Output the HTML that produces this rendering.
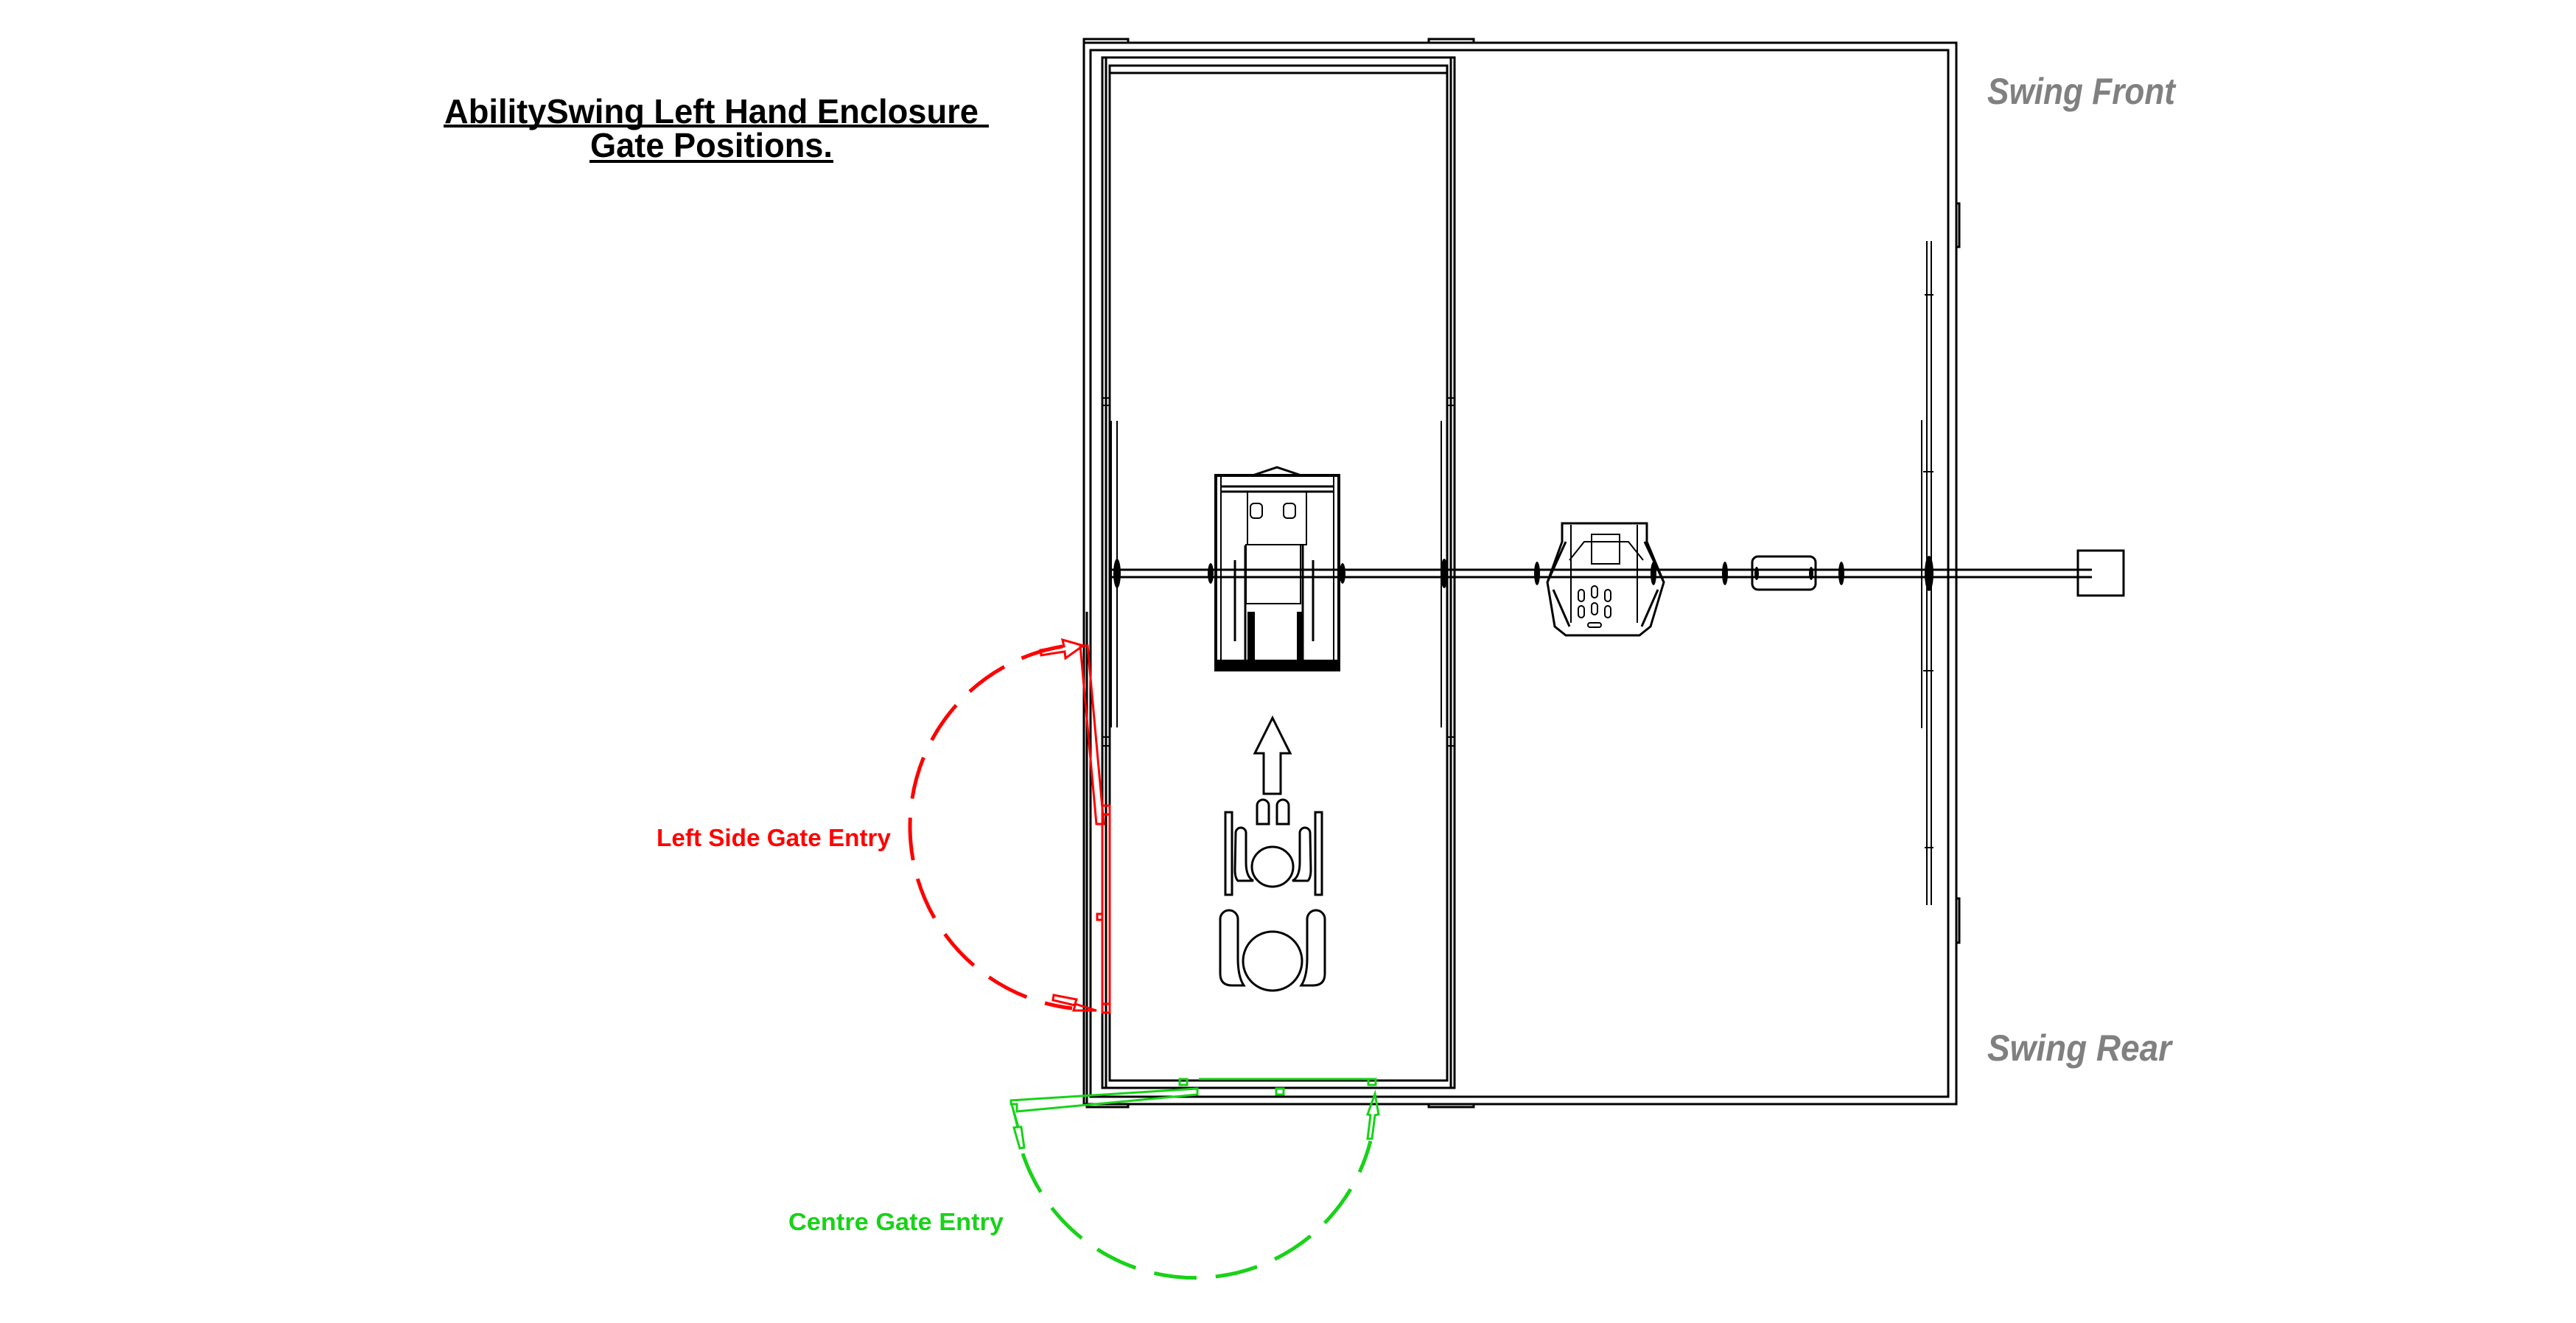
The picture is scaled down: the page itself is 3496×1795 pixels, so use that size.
<!DOCTYPE html>
<html><head><meta charset="utf-8"><style>
html,body{margin:0;padding:0;background:#fff;}
svg{display:block;}
</style></head><body>
<svg width="3496" height="1795" viewBox="0 0 3496 1795" xmlns="http://www.w3.org/2000/svg">
<rect width="3496" height="1795" fill="#fff"/>
<!-- Title -->
<g font-family="'Liberation Sans',sans-serif" font-weight="bold" fill="#000">
<text x="603" y="167" font-size="46" textLength="725" lengthAdjust="spacingAndGlyphs">AbilitySwing Left Hand Enclosure</text>
<text x="801" y="213" font-size="46" textLength="329" lengthAdjust="spacingAndGlyphs">Gate Positions.</text>
</g>
<rect x="602" y="169" width="740" height="4" fill="#000"/>
<rect x="800" y="217" width="331" height="4" fill="#000"/>
<g font-family="'Liberation Sans',sans-serif" font-weight="bold" font-style="italic" fill="#808080">
<text x="2697" y="141" font-size="50" textLength="255" lengthAdjust="spacingAndGlyphs">Swing Front</text>
<text x="2697" y="1439" font-size="50" textLength="250" lengthAdjust="spacingAndGlyphs">Swing Rear</text>
</g>
<g font-family="'Liberation Sans',sans-serif" font-weight="bold">
<text x="891" y="1148" font-size="33" fill="#ff0000" textLength="318" lengthAdjust="spacingAndGlyphs">Left Side Gate Entry</text>
<text x="1070" y="1669" font-size="33" fill="#19d219" textLength="292" lengthAdjust="spacingAndGlyphs">Centre Gate Entry</text>
</g>

<g fill="none" stroke="#000" stroke-width="3">
<!-- outer frame -->
<rect x="1471" y="58" width="1184" height="1440"/>
<rect x="1480" y="68" width="1164" height="1420"/>
<path d="M1471 112 V53 H1531 V58 M1939 58 V53 H2000 V58 M2655 276 H2659 V335 H2655 M2655 1219 H2659 V1279 H2655 M1939 1498 V1502 H2000 V1498 M1475 1498 V1502 H1531 V1498"/>
<line x1="1475" y1="830" x2="1475" y2="1498"/>
<!-- enclosure -->
<rect x="1496" y="78" width="478" height="1398"/>
<rect x="1506" y="89" width="458" height="1377"/>
<line x1="1506" y1="99" x2="1964" y2="99"/>
<line x1="1501" y1="78" x2="1501" y2="1476"/>
<line x1="1969" y1="78" x2="1969" y2="1476"/>
<!-- side post details -->
<path d="M1508 571 V987 M1516 571 V987 M1956 571 V987 M1964 571 V987" stroke-width="2"/>
<path d="M1496 540 H1506 M1496 550 H1506 M1964 540 H1974 M1964 550 H1974 M1496 1000 H1506 M1496 1012 H1506 M1964 1000 H1974 M1964 1012 H1974" stroke-width="2"/>
<!-- right swing posts -->
<path d="M2615 327 V1228 M2621 327 V1228 M2608 570 V988" stroke-width="2"/>
<path d="M2612 400 h12 M2612 1150 h12 M2610 640 h14 M2610 910 h14" stroke-width="2"/>
<!-- bar -->
<line x1="1506" y1="773" x2="2839" y2="773"/>
<line x1="1506" y1="783" x2="2839" y2="783"/>
<rect x="2820" y="747" width="62" height="61"/>
<!-- chair -->
<rect x="1650" y="645" width="167" height="264" stroke-width="4"/>
<path d="M1656 660 H1811 M1656 667 H1811 M1700 645 L1733 634 L1766 645" stroke-width="3"/>
<path d="M1657 645 V909 M1810 645 V909" stroke-width="2"/>
<rect x="1693" y="667" width="80" height="72" stroke-width="2"/>
<rect x="1697" y="683" width="16" height="20" rx="5" stroke-width="2"/>
<rect x="1742" y="683" width="16" height="20" rx="5" stroke-width="2"/>
<rect x="1691" y="739" width="74" height="80" stroke-width="2"/>
<path d="M1690 740 V895 M1768 740 V895 M1676 760 V870 M1782 760 V870" stroke-width="3"/>
<rect x="1693" y="830" width="10" height="70" fill="#000" stroke="none"/>
<rect x="1760" y="830" width="8" height="70" fill="#000" stroke="none"/>
<rect x="1650" y="895" width="167" height="14" fill="#000" stroke="none"/>
<!-- bucket seat -->
<path d="M2120 710 H2235 V735 L2258 790 L2240 850 L2225 862 H2125 L2110 850 L2100 790 L2120 735 Z" stroke-width="3"/>
<path d="M2132 712 V845 M2222 712 V845 M2130 760 L2150 735 H2210 L2230 760" stroke-width="2"/>
<rect x="2160" y="725" width="38" height="40" stroke-width="2"/>
<path d="M2100 790 L2125 735 M2258 790 L2232 735 M2108 800 L2130 850 M2250 800 L2228 850" stroke-width="3"/>
<g stroke-width="2"><rect x="2142" y="800" width="8" height="16" rx="4"/><rect x="2160" y="795" width="8" height="16" rx="4"/><rect x="2178" y="800" width="8" height="16" rx="4"/><rect x="2142" y="822" width="8" height="16" rx="4"/><rect x="2160" y="818" width="8" height="16" rx="4"/><rect x="2178" y="822" width="8" height="16" rx="4"/><rect x="2155" y="845" width="18" height="6" rx="3"/></g>
<!-- connector box -->
<rect x="2378" y="755" width="86" height="45" rx="8"/>
</g>
<!-- rings -->
<g fill="#000">
<ellipse cx="1516" cy="778" rx="5" ry="20"/>
<ellipse cx="1643" cy="778" rx="4" ry="14"/>
<ellipse cx="1822" cy="778" rx="4" ry="14"/>
<ellipse cx="1960" cy="778" rx="5" ry="20"/>
<ellipse cx="2086" cy="778" rx="4" ry="16"/>
<ellipse cx="2244" cy="778" rx="4" ry="16"/>
<ellipse cx="2341" cy="778" rx="4" ry="16"/>
<ellipse cx="2499" cy="778" rx="4" ry="16"/>
<ellipse cx="2618" cy="778" rx="6" ry="24"/>
<ellipse cx="2384" cy="778" rx="3" ry="9"/>
<ellipse cx="2458" cy="778" rx="3" ry="9"/>
</g>
<!-- arrow & wheelchair symbol -->
<g fill="none" stroke="#000" stroke-width="3">
<path d="M1727 974 L1751 1022 H1738 V1077 H1715 V1022 H1703 Z"/>
<rect x="1663" y="1102" width="9" height="112"/>
<rect x="1785" y="1102" width="9" height="112"/>
<path d="M1706 1118 V1093 a8 8 0 0 1 16 0 V1118 Z"/>
<path d="M1733 1118 V1093 a8 8 0 0 1 16 0 V1118 Z"/>
<ellipse cx="1727" cy="1176" rx="28" ry="27"/>
<path d="M1677 1130 a6 6 0 0 1 14 0 V1170 q0 20 10 25 H1680 q-4 -4 -4 -15 Z"/>
<path d="M1778 1130 a6 6 0 0 0 -14 0 V1170 q0 20 -10 25 H1775 q4 -4 4 -15 Z"/>
<circle cx="1727" cy="1304" r="40"/>
<path d="M1656 1247 a12 12 0 0 1 24 0 V1300 q0 25 8 37 H1672 q-16 0 -16 -16 Z"/>
<path d="M1798 1247 a12 12 0 0 0 -24 0 V1300 q0 25 -8 37 H1782 q16 0 16 -16 Z"/>
</g>
<!-- red gate -->
<g fill="none" stroke="#ff0000" stroke-width="3">
<rect x="1496" y="1105" width="10" height="269"/>
<rect x="1496" y="1093" width="10" height="12"/>
<rect x="1496" y="1362" width="10" height="12"/>
<rect x="1489" y="1240" width="7" height="8"/>
<path d="M1488 1118 L1466 876 H1476 L1498 1118 Z"/>
<path d="M1470 876 L1442 868 L1444 877 L1412 882 L1413 889 L1445 884 L1446 893 Z"/>
<path d="M1488 1371 L1459 1362 L1461 1356 L1430 1350 L1429 1357 L1459 1364 L1457 1371 Z"/>
<path d="M1442 877 A248 248 0 0 0 1455 1368" stroke-width="5" stroke-dasharray="58 26"/>
</g>
<!-- green gate -->
<g fill="none" stroke="#19d219" stroke-width="3">
<line x1="1627" y1="1464" x2="1868" y2="1464"/>
<rect x="1601" y="1464" width="10" height="8"/>
<rect x="1857" y="1464" width="10" height="8"/>
<rect x="1732" y="1477" width="10" height="8"/>
<path d="M1372 1493 L1625 1477 V1485 L1380 1508 V1498 L1372 1498 Z"/>
<path d="M1373 1498 L1382 1529 L1376 1530 L1384 1558 L1390 1557 L1386 1529 L1381 1529 Z"/>
<path d="M1866 1484 L1871 1512 L1866 1513 L1862 1545 L1856 1545 L1860 1513 L1856 1512 Z"/>
<path d="M1388 1565 A246 246 0 0 0 1860 1548" stroke-width="5" stroke-dasharray="58 26"/>
</g>
</svg>
</body></html>
